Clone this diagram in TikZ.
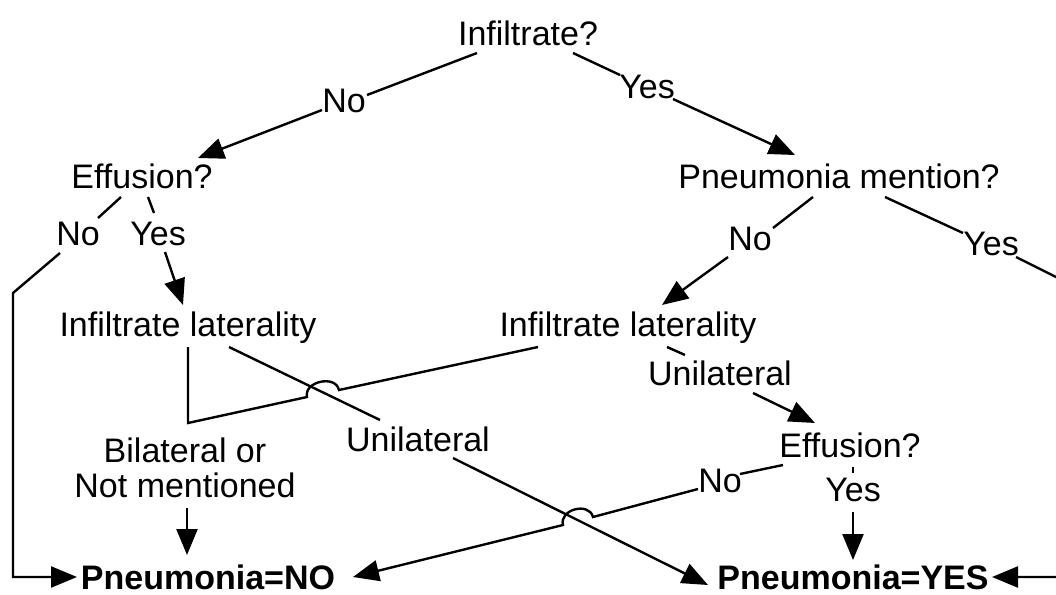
\documentclass[tikz,border=0pt]{standalone}
\usepackage{fontspec}
\setmainfont{Liberation Sans}
\usetikzlibrary{arrows.meta}
\begin{document}
\begin{tikzpicture}[x=0.5pt,y=-0.5pt,
  lbl/.style={anchor=base,inner sep=0pt,font=\fontsize{17}{20}\selectfont},
  outc/.style={lbl,font=\fontsize{17}{20}\selectfont\bfseries},
  conn/.style={line width=1.2pt,line cap=butt,line join=miter},
  arr/.style={conn,-{Triangle[length=13pt,width=10.5pt]}}]
\useasboundingbox (0,0) rectangle (1056,595);
\clip (0,0) rectangle (1056,595);
% nodes
\node[lbl] (inf) at (528,45) {Infiltrate?};
\node[lbl] (noA) at (344,112) {No};
\node[lbl] (yesA) at (647,98) {Yes};
\node[lbl] (effL) at (142,188) {Effusion?};
\node[lbl] (pm) at (839,188) {Pneumonia mention?};
\node[lbl] (noB) at (78,245) {No};
\node[lbl] (yesB) at (158,245) {Yes};
\node[lbl] (ilL) at (188,336) {Infiltrate laterality};
\node[lbl] (ilR) at (628,336) {Infiltrate laterality};
\node[lbl] (noC) at (750,250) {No};
\node[lbl] (yesC) at (991,255) {Yes};
\node[lbl] (uniR) at (720,385) {Unilateral};
\node[lbl] (uniL) at (418,451) {Unilateral};
\node[lbl] (effR) at (850,457) {Effusion?};
\node[lbl,align=center,anchor=north,font=\fontsize{17}{17.5}\selectfont] (bil) at (185,437) {Bilateral or\\Not mentioned};
\node[lbl] (noD) at (720,492) {No};
\node[lbl] (yesD) at (853,501) {Yes};
\node[outc] (pno) at (208,589) {Pneumonia=NO};
\node[outc] (pyes) at (853,589) {Pneumonia=YES};
\coordinate (c1) at (13,293);
\coordinate (c2) at (13,577);
\coordinate (jt) at (188,423);
\coordinate (r1) at (1070,284);
\coordinate (r2) at (1070,577);
% connectors
\draw[conn] ([shift={(-51,8)}]inf.base) -- ([shift={(23,-17)}]noA.base);
\draw[arr] ([shift={(-22,-2)}]noA.base) -- ([shift={(56,-30)}]effL.base);
\draw[conn] ([shift={(45,8)}]inf.base) -- ([shift={(-27,-23)}]yesA.base);
\draw[arr] ([shift={(26,1)}]yesA.base) -- ([shift={(-44,-33)}]pm.base);
\draw[conn] ([shift={(-21,9)}]effL.base) -- ([shift={(20,-27)}]noB.base);
\draw[arr] ([shift={(-18,8)}]noB.base) -- (c1) -- (c2) -- ([shift={(-131,-12)}]pno.base);
\draw[conn] ([shift={(6,9)}]effL.base) -- ([shift={(-4,-32)}]yesB.base);
\draw[arr] ([shift={(7,7)}]yesB.base) -- ([shift={(-5,-31)}]ilL.base);
\draw[conn] ([shift={(-26,9)}]pm.base) -- ([shift={(23,-22)}]noC.base);
\draw[arr] ([shift={(-22,7)}]noC.base) -- ([shift={(34,-31)}]ilR.base);
\draw[conn] ([shift={(46,9)}]pm.base) -- ([shift={(-28,-22)}]yesC.base);
\draw[arr] ([shift={(25,2)}]yesC.base) -- (r1) -- (r2) -- ([shift={(139,-12)}]pyes.base);
\draw[conn] ([shift={(0,11)}]ilL.base) -- (jt) -- (307,397)
  .. controls (303.6,381.4) and (335.6,374.4) .. (339,390) -- ([shift={(-90,11)}]ilR.base);
\draw[arr] ([shift={(2,10)}]bil.south) -- ([shift={(-21,-34)}]pno.base);
\draw[conn] ([shift={(41,11)}]ilL.base) -- ([shift={(-38,-31)}]uniL.base);
\draw[arr] ([shift={(35,7)}]uniL.base) -- ([shift={(-145,-4)}]pyes.base);
\draw[conn] ([shift={(39,11)}]ilR.base) -- ([shift={(-35,-30)}]uniR.base);
\draw[arr] ([shift={(33,8)}]uniR.base) -- ([shift={(-35,-34)}]effR.base);
\draw[conn] ([shift={(-67,8)}]effR.base) -- ([shift={(20,-18)}]noD.base);
\draw[arr] ([shift={(-22,-3)}]noD.base) -- (593,517)
  .. controls (588.9,501.5) and (558.9,509.5) .. (563,525) -- ([shift={(145,-12)}]pno.base);
\draw[conn] ([shift={(3,10)}]effR.base) -- ([shift={(0,-28)}]yesD.base);
\draw[arr] ([shift={(0,11)}]yesD.base) -- ([shift={(0,-29)}]pyes.base);
\end{tikzpicture}
\end{document}
